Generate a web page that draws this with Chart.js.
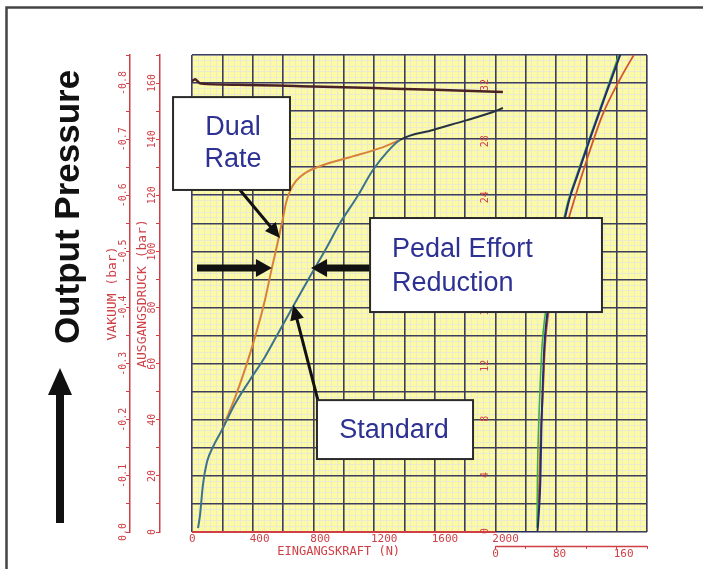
<!DOCTYPE html>
<html>
<head>
<meta charset="utf-8">
<script src="https://cdn.jsdelivr.net/npm/chart.js@4.4.1/dist/chart.umd.min.js"></script>
<style>
  html, body { margin: 0; padding: 0; background: #fff; }
  canvas { display: block; }
</style>
</head>
<body>
<canvas id="c" width="703" height="569" style="width:703px;height:569px"></canvas>
<script>
// ---- Booster characteristic: input force (N) against output pressure (bar) ----
const standardForce    = [40, 53, 72, 99, 138, 198, 283, 382, 481, 580, 679, 791, 890, 976, 1088, 1193, 1286, 1371, 1589, 1813, 1985, 2050];
const standardPressure = [1.4, 6.1, 16.8, 25.0, 30.3, 36.4, 45.6, 54.2, 62.4, 72.0, 81.6, 92.3, 101.6, 110.1, 119.4, 129.0, 135.4, 139.7, 143.3, 146.8, 149.7, 151.1];

// Dual rate unit: leaves the standard trace near 200 N and rejoins it at run-out
const dualForce    = [198, 224, 290, 363, 429, 481, 521, 554, 580, 600, 620, 646, 686, 745, 844, 1022, 1240, 1371];
const dualPressure = [36.4, 39.9, 48.8, 60.2, 72.0, 82.7, 92.7, 100.5, 106.9, 111.9, 117.3, 121.5, 125.1, 127.9, 130.4, 133.3, 136.8, 139.7];

// Vacuum in the booster chamber (bar) over the same force sweep
const vacuumForce = [0, 20, 45, 60, 300, 800, 1200, 1600, 2050];
const vacuumLevel = [-0.803, -0.807, -0.801, -0.799, -0.797, -0.794, -0.791, -0.788, -0.784];

// Inset record on the right-hand scales (three runs)
const insetNavyX   = [0, 55.4, 56.7, 59.4, 60.7, 62.0, 64.6, 68.6, 75.2, 84.4, 92.3, 97.6, 108.2, 124.0, 145.1, 166.0];
const insetNavyY   = [0, 0, 0.86, 3.7, 7.3, 9.6, 13.2, 15.6, 18.0, 20.5, 22.5, 23.7, 25.4, 27.9, 31.1, 34.2];
const insetGreenX  = [55.0, 55.5, 57.0, 58.5, 61.5, 66.0, 73.0, 83.0, 91.0, 96.5, 107.0, 123.0, 144.0, 164.0];
const insetGreenY  = [0.3, 3.7, 7.3, 9.6, 13.2, 15.6, 18.0, 20.5, 22.5, 23.7, 25.4, 27.9, 31.1, 34.2];
const insetOrangeX = [56.0, 58.0, 60.0, 62.5, 65.5, 70.0, 79.0, 92.3, 104.2, 118.7, 141.1, 163.6, 184.7];
const insetOrangeY = [0.8, 3.7, 7.3, 9.6, 13.2, 15.6, 18.7, 21.5, 23.7, 26.2, 29.7, 32.2, 34.2];

// ---- Tick labels ----
const forceTickValues    = [0, 400, 800, 1200, 1600, 2000];
const forceTickLabels    = ['0', '400', '800', '1200', '1600', '2000'];
const pressureTickValues = [0, 20, 40, 60, 80, 100, 120, 140, 160];
const pressureTickLabels = ['0', '20', '40', '60', '80', '100', '120', '140', '160'];
const vacuumTickValues   = [0, -0.1, -0.2, -0.3, -0.4, -0.5, -0.6, -0.7, -0.8];
const vacuumTickLabels   = ['0.0', '-0.1', '-0.2', '-0.3', '-0.4', '-0.5', '-0.6', '-0.7', '-0.8'];
const insetYTickValues   = [0, 4, 8, 12, 16, 20, 24, 28, 32];
const insetYTickLabels   = ['0', '4', '8', '12', '16', '20', '24', '28', '32'];
const insetXTickValues   = [0, 80, 160];
const insetXTickLabels   = ['0', '80', '160'];

const RED = '#cf3f46';
const YELLOW = '#fdfaa4';
const MINOR = '#eae9d2';
const MAJOR = '#3d3d5e';
const INK = '#2d3192';
const MONO = '"DejaVu Sans Mono", "Liberation Mono", monospace';
const SANS = '"Liberation Sans", Arial, sans-serif';

const pairs = (xs, ys) => xs.map((x, i) => ({ x, y: ys[i] }));
const stepsOf = (lo, hi, step) =>
  Array.from({ length: Math.round((hi - lo) / step) + 1 }, (_, i) => +(lo + i * step).toFixed(4));
const setTicks = values => scale => { scale.ticks = values.map(value => ({ value })); };
const labelFrom = (values, labels) => v => {
  const i = values.findIndex(t => Math.abs(t - v) < 1e-6);
  return i < 0 ? '' : labels[i];
};
const mergeForce = dualForce[dualForce.length - 1];

// ---- Callouts, placed in force / pressure units ----
const callouts = [
  { lines: ['Dual', 'Rate'], box: [-125, 155.0, 646, 121.9], text: [[270, 144.0], [270, 132.6]], align: 'center' },
  { lines: ['Pedal Effort', 'Reduction'], box: [1174, 111.9, 2703, 78.4], text: [[1319, 100.5], [1319, 88.4]], align: 'left' },
  { lines: ['Standard'], box: [824, 47.0, 1853, 26.0], text: [[1332, 36.0]], align: 'center' }
];
const pointers = [
  { from: [316, 121.9], to: [580, 104.8], width: 3, head: 15, half: 7 },
  { from: [830, 47.0], to: [668, 80.9], width: 3, head: 15, half: 7 },
  { from: [33, 94.1], to: [527, 94.1], width: 7, head: 16, half: 9 },
  { from: [1174, 94.1], to: [785, 94.1], width: 7, head: 16, half: 9 }
];

const paper = {
  id: 'paper',
  beforeDraw(chart) {
    const { ctx, chartArea: a } = chart;
    ctx.save();
    ctx.fillStyle = '#fff';
    ctx.fillRect(0, 0, chart.width, chart.height);
    ctx.fillStyle = YELLOW;
    ctx.fillRect(a.left, a.top, a.right - a.left, a.bottom - a.top);
    ctx.restore();
  }
};

function arrow(ctx, x0, y0, x1, y1, width, head, half) {
  const ang = Math.atan2(y1 - y0, x1 - x0);
  const bx = x1 - Math.cos(ang) * head, by = y1 - Math.sin(ang) * head;
  ctx.strokeStyle = '#111';
  ctx.fillStyle = '#111';
  ctx.lineWidth = width;
  ctx.lineCap = 'butt';
  ctx.beginPath();
  ctx.moveTo(x0, y0);
  ctx.lineTo(bx + Math.cos(ang) * 2, by + Math.sin(ang) * 2);
  ctx.stroke();
  ctx.beginPath();
  ctx.moveTo(x1, y1);
  ctx.lineTo(bx + Math.sin(ang) * half, by - Math.cos(ang) * half);
  ctx.lineTo(bx - Math.sin(ang) * half, by + Math.cos(ang) * half);
  ctx.closePath();
  ctx.fill();
}

const overlay = {
  id: 'overlay',
  afterDatasetsDraw(chart) {
    const { ctx, chartArea: a, scales: s } = chart;
    ctx.save();
    ctx.strokeStyle = RED;
    ctx.lineWidth = 2;
    ctx.beginPath();
    ctx.moveTo(s.x.getPixelForValue(0), a.bottom);
    ctx.lineTo(s.x.getPixelForValue(forceTickValues[forceTickValues.length - 1]), a.bottom);
    ctx.stroke();
    ctx.lineWidth = 1.5;
    ctx.beginPath();
    ctx.moveTo(s.x2.getPixelForValue(0), s.x2.top + 0.5);
    ctx.lineTo(s.x2.getPixelForValue(s.x2.max), s.x2.top + 0.5);
    ctx.stroke();
    ctx.restore();
  },
  afterDraw(chart) {
    const { ctx, scales: s } = chart;
    const px = v => s.x.getPixelForValue(v);
    const py = v => s.y.getPixelForValue(v);
    ctx.save();

    // frame
    ctx.strokeStyle = '#444';
    ctx.lineWidth = 2.5;
    ctx.strokeRect(6.5, 7.5, 760, 640);

    // pointers
    pointers.forEach(p => arrow(ctx, px(p.from[0]), py(p.from[1]), px(p.to[0]), py(p.to[1]), p.width, p.head, p.half));

    // callout boxes
    callouts.forEach(c => {
      const x0 = px(c.box[0]), y0 = py(c.box[1]), x1 = px(c.box[2]), y1 = py(c.box[3]);
      ctx.fillStyle = '#fff';
      ctx.fillRect(x0, y0, x1 - x0, y1 - y0);
      ctx.strokeStyle = '#2a2a2a';
      ctx.lineWidth = 2;
      ctx.strokeRect(x0, y0, x1 - x0, y1 - y0);
      ctx.fillStyle = INK;
      ctx.font = '27px ' + SANS;
      ctx.textAlign = c.align;
      ctx.textBaseline = 'middle';
      c.lines.forEach((t, i) => ctx.fillText(t, px(c.text[i][0]), py(c.text[i][1])));
    });

    // vertical caption with upward arrow
    ctx.fillStyle = '#111';
    ctx.save();
    ctx.translate(79, 207);
    ctx.rotate(-Math.PI / 2);
    ctx.font = 'bold 35px ' + SANS;
    ctx.textAlign = 'center';
    ctx.textBaseline = 'alphabetic';
    ctx.fillText('Output Pressure', 0, 0);
    ctx.restore();
    ctx.fillRect(56, 392, 8, 131);
    ctx.beginPath();
    ctx.moveTo(60, 368);
    ctx.lineTo(72, 395);
    ctx.lineTo(48, 395);
    ctx.closePath();
    ctx.fill();
    ctx.restore();
  }
};

const redTicks = { color: RED, font: { family: MONO, size: 10 } };

new Chart(document.getElementById('c'), {
  type: 'line',
  data: {
    datasets: [
      {
        label: 'Standard', data: pairs(standardForce, standardPressure),
        borderColor: '#3d7389', borderWidth: 2,
        segment: { borderColor: ctx => (ctx.p0.parsed.x >= mergeForce ? '#26323f' : undefined) }
      },
      { label: 'Dual Rate', data: pairs(dualForce, dualPressure), borderColor: '#d6823a', borderWidth: 2 },
      { label: 'Vakuum', data: pairs(vacuumForce, vacuumLevel), yAxisID: 'yV', borderColor: '#4a2226', borderWidth: 2.5 },
      { label: 'Run 1', data: pairs(insetNavyX, insetNavyY), xAxisID: 'x2', yAxisID: 'yR', borderColor: '#262a6e', borderWidth: 2 },
      { label: 'Run 2', data: pairs(insetGreenX, insetGreenY), xAxisID: 'x2', yAxisID: 'yR', borderColor: '#3fae48', borderWidth: 1.6 },
      { label: 'Run 3', data: pairs(insetOrangeX, insetOrangeY), xAxisID: 'x2', yAxisID: 'yR', borderColor: '#d2562e', borderWidth: 1.8 }
    ]
  },
  options: {
    responsive: false,
    animation: false,
    layout: { padding: { left: 100, top: 55, right: 56, bottom: 0 } },
    elements: { point: { radius: 0 }, line: { cubicInterpolationMode: 'monotone' } },
    plugins: { legend: { display: false }, tooltip: { enabled: false } },
    scales: {
      x: {
        type: 'linear', position: 'bottom', weight: 1, min: 0, max: 3000,
        afterBuildTicks: setTicks(stepsOf(0, 3000, 200)),
        ticks: { ...redTicks, font: { family: MONO, size: 11 }, autoSkip: false, maxRotation: 0, align: 'start', labelOffset: -3, padding: 1,
                 callback: labelFrom(forceTickValues, forceTickLabels) },
        grid: { color: MAJOR, lineWidth: 1.6, drawTicks: false, z: -1 },
        border: { display: false },
        afterFit: sc => { sc.height = 14; }
      },
      // axis caption carried as a single tick label below the force ticks
      xCap: {
        type: 'linear', position: 'bottom', weight: 2, min: 0, max: 3000,
        afterBuildTicks: setTicks([1000]),
        ticks: { color: RED, font: { family: MONO, size: 12 }, autoSkip: false, maxRotation: 0, mirror: true, padding: -13, labelOffset: -5,
                 callback: () => 'EINGANGSKRAFT (N)' },
        grid: { display: false, drawTicks: false },
        border: { display: false },
        afterFit: sc => { sc.height = 0; }
      },
      x2: {
        type: 'linear', position: 'bottom', weight: 3, min: -400, max: 200,
        afterBuildTicks: setTicks(stepsOf(0, 200, 40)),
        ticks: { ...redTicks, font: { family: MONO, size: 11 }, autoSkip: false, maxRotation: 0, align: 'start', labelOffset: -3, padding: -1,
                 callback: labelFrom(insetXTickValues, insetXTickLabels) },
        grid: { drawOnChartArea: false, drawTicks: true, tickLength: 3, color: RED, lineWidth: 1 },
        border: { display: false },
        afterFit: sc => { sc.height = 23; }
      },
      xMinor: {
        type: 'linear', position: 'bottom', weight: 4, min: 0, max: 3000,
        afterBuildTicks: setTicks(stepsOf(0, 3000, 40)),
        ticks: { display: false, autoSkip: false },
        grid: { color: MINOR, lineWidth: 1, drawTicks: false, z: -2 },
        border: { display: false },
        afterFit: sc => { sc.height = 0; }
      },
      y: {
        type: 'linear', position: 'left', weight: 1, min: 0, max: 170,
        afterBuildTicks: setTicks(stepsOf(0, 170, 10)),
        ticks: { display: false, autoSkip: false },
        grid: { color: MAJOR, lineWidth: 1.6, drawTicks: false, z: -1 },
        border: { display: false },
        afterFit: sc => { sc.width = 32; }
      },
      yMinor: {
        type: 'linear', position: 'left', weight: 0, min: 0, max: 170,
        afterBuildTicks: setTicks(stepsOf(0, 170, 2)),
        ticks: { display: false, autoSkip: false },
        grid: { color: MINOR, lineWidth: 1, drawTicks: false, z: -2 },
        border: { display: false },
        afterFit: sc => { sc.width = 0; }
      },
      yP: {
        type: 'linear', position: 'left', weight: 2, min: 0, max: 170,
        afterBuildTicks: setTicks(stepsOf(0, 170, 10)),
        ticks: { ...redTicks, autoSkip: false, minRotation: 90, maxRotation: 90, crossAlign: 'center', padding: -5,
                 callback: labelFrom(pressureTickValues, pressureTickLabels) },
        grid: { drawOnChartArea: false, drawTicks: true, tickLength: 4, color: RED, lineWidth: 1 },
        border: { display: true, color: RED, width: 1.5 },
        title: { display: true, text: 'AUSGANGSDRUCK (bar)', color: RED, font: { family: MONO, size: 13 }, padding: { top: 5, bottom: 0 } },
        afterFit: sc => { sc.width = 30; }
      },
      yV: {
        type: 'linear', position: 'left', weight: 3, min: -0.85, max: 0, reverse: true,
        afterBuildTicks: setTicks(stepsOf(-0.85, 0, 0.05)),
        ticks: { ...redTicks, autoSkip: false, minRotation: 90, maxRotation: 90, crossAlign: 'center', padding: -9,
                 callback: labelFrom(vacuumTickValues, vacuumTickLabels) },
        grid: { drawOnChartArea: false, drawTicks: true, tickLength: 4, color: RED, lineWidth: 1 },
        border: { display: true, color: RED, width: 1.5 },
        title: { display: true, text: 'VAKUUM (bar)', color: RED, font: { family: MONO, size: 13 }, padding: { top: 5, bottom: 0 } },
        afterFit: sc => { sc.width = 30; }
      },
      yR: {
        type: 'linear', axis: 'y', position: { x: 1935 }, min: 0, max: 34,
        afterBuildTicks: setTicks(stepsOf(0, 32, 4)),
        ticks: { ...redTicks, autoSkip: false, minRotation: 90, maxRotation: 90, padding: 0, labelOffset: -4,
                 callback: labelFrom(insetYTickValues, insetYTickLabels) },
        grid: { display: false, drawTicks: false },
        border: { display: false }
      }
    }
  },
  plugins: [paper, overlay]
});
</script>
</body>
</html>
